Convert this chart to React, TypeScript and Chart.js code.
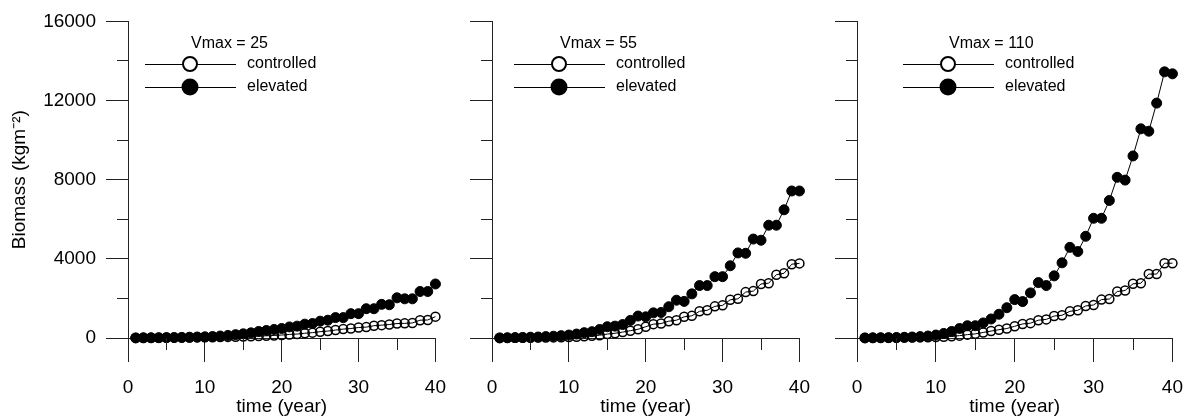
import React, { useEffect, useRef } from 'react';
import { Chart, registerables } from 'chart.js';

Chart.register(...registerables);

// ---- data ----
const years = [1, 2, 3, 4, 5, 6, 7, 8, 9, 10, 11, 12, 13, 14, 15, 16, 17, 18, 19, 20,
  21, 22, 23, 24, 25, 26, 27, 28, 29, 30, 31, 32, 33, 34, 35, 36, 37, 38, 39, 40];

const controlled25 = [5, 8, 10, 12, 15, 18, 20, 25, 30, 35, 40, 50, 55, 65, 75, 90, 100, 110, 130, 150,
  180, 200, 240, 270, 320, 350, 400, 450, 480, 530, 550, 620, 650, 680, 730, 740, 760, 900, 910, 1080];
const elevated25 = [5, 8, 10, 15, 20, 25, 30, 40, 50, 60, 75, 100, 130, 170, 210, 260, 330, 380, 430, 480,
  560, 600, 700, 730, 850, 900, 1030, 1030, 1230, 1230, 1480, 1480, 1700, 1680, 2030, 1980, 1980, 2350, 2350, 2730];

const controlled55 = [5, 7, 10, 12, 15, 20, 25, 30, 40, 50, 65, 85, 110, 140, 200, 240, 300, 370, 440, 570,
  700, 730, 850, 900, 1070, 1120, 1350, 1400, 1600, 1650, 1930, 1980, 2320, 2370, 2730, 2770, 3200, 3270, 3730, 3770];
const elevated55 = [5, 10, 20, 30, 40, 50, 70, 90, 120, 150, 200, 270, 320, 430, 570, 600, 680, 890, 1110, 1070,
  1270, 1290, 1580, 1910, 1850, 2230, 2650, 2650, 3100, 3100, 3650, 4300, 4280, 5000, 4940, 5700, 5700, 6480, 7430, 7430];

const controlled110 = [5, 7, 10, 12, 15, 20, 25, 30, 40, 50, 65, 85, 120, 170, 210, 280, 350, 420, 480, 590,
  710, 750, 900, 940, 1110, 1150, 1350, 1400, 1620, 1670, 1940, 1970, 2350, 2400, 2740, 2770, 3230, 3230, 3780, 3780];
const elevated110 = [5, 8, 12, 18, 25, 35, 50, 70, 100, 150, 230, 330, 480, 620, 620, 760, 960, 1200, 1530, 1940,
  1840, 2280, 2800, 2650, 3140, 3800, 4580, 4370, 5140, 6050, 6050, 6950, 8120, 7980, 9200, 10570, 10450, 11870, 13450, 13350];

const vmaxTitles = ['Vmax = 25', 'Vmax = 55', 'Vmax = 110'];
const seriesNames = ['controlled', 'elevated'];
const yAxisTitle = 'Biomass (kgm\u207B\u00B2)';
const xAxisTitle = 'time (year)';
const xMajorTicks = [0, 10, 20, 30, 40];
const xMinorTicks = [5, 15, 25, 35];
const yMajorTicks = [0, 4000, 8000, 12000, 16000];
const yMinorTicks = [2000, 6000, 10000, 14000];

const panelSeries = [
  { controlled: controlled25, elevated: elevated25 },
  { controlled: controlled55, elevated: elevated55 },
  { controlled: controlled110, elevated: elevated110 },
];

// ---- layout / style ----
const FONT = '"Liberation Sans", Arial, Helvetica, sans-serif';
const AXIS = '#222';
const H = 416;
const LAYOUT = [
  { left: 0, width: 460, yWidth: 128, padRight: 13, labels: true, cx: 190 },
  { left: 460, width: 364, yWidth: 32, padRight: 12, labels: false, cx: 99 },
  { left: 824, width: 373, yWidth: 33, padRight: 22, labels: false, cx: 124 },
];

function align(p: number) {
  return Math.round(p - 0.5) + 0.5;
}

const minorTicksPlugin = {
  id: 'minorTicks',
  afterDraw(chart: any, _a: any, opts: any) {
    const { ctx, chartArea, scales } = chart;
    ctx.save();
    ctx.strokeStyle = AXIS;
    ctx.lineWidth = 1;
    ctx.beginPath();
    for (const v of opts.y) {
      const py = align(scales.y.getPixelForValue(v));
      ctx.moveTo(chartArea.left - opts.yLen, py);
      ctx.lineTo(chartArea.left, py);
    }
    for (const v of opts.x) {
      const px = align(scales.x.getPixelForValue(v));
      ctx.moveTo(px, chartArea.bottom);
      ctx.lineTo(px, chartArea.bottom + opts.xLen);
    }
    ctx.stroke();
    ctx.restore();
  },
};

const panelLegendPlugin = {
  id: 'panelLegend',
  afterDatasetsDraw(chart: any, _a: any, opts: any) {
    const { ctx } = chart;
    const cx = opts.cx;
    ctx.save();
    ctx.font = `16px ${FONT}`;
    ctx.fillStyle = '#000';
    ctx.textBaseline = 'middle';
    ctx.textAlign = 'left';
    ctx.fillText(opts.title, cx + 1, 44);
    const rowsY = [64, 87];
    opts.names.forEach((name: string, i: number) => {
      const y = rowsY[i];
      ctx.strokeStyle = '#000';
      ctx.lineWidth = 1;
      ctx.beginPath();
      ctx.moveTo(cx - 45, align(y));
      ctx.lineTo(cx + 46, align(y));
      ctx.stroke();
      ctx.beginPath();
      if (i === 0) {
        ctx.arc(cx, y, 7, 0, Math.PI * 2);
        ctx.fillStyle = '#fff';
        ctx.fill();
        ctx.lineWidth = 2;
        ctx.stroke();
      } else {
        ctx.arc(cx, y, 8.5, 0, Math.PI * 2);
        ctx.fillStyle = '#000';
        ctx.fill();
      }
      ctx.fillStyle = '#000';
      ctx.fillText(name, cx + 57, y);
    });
    ctx.restore();
  },
};

function Panel({ index }: { index: number }) {
  const ref = useRef<HTMLCanvasElement>(null);
  const lay = LAYOUT[index];
  const series = panelSeries[index];

  useEffect(() => {
    if (!ref.current) return;
    const toPts = (vals: number[]) => years.map((x, i) => ({ x, y: vals[i] }));
    const chart = new Chart(ref.current, {
      type: 'line',
      data: {
        datasets: [
          {
            label: seriesNames[1],
            data: toPts(series.elevated),
            borderColor: '#000',
            borderWidth: 1,
            pointRadius: 5,
            pointBackgroundColor: '#000',
            pointBorderColor: '#000',
            pointBorderWidth: 1,
            tension: 0,
            clip: false as any,
          },
          {
            label: seriesNames[0],
            data: toPts(series.controlled),
            borderColor: '#000',
            borderWidth: 1,
            pointRadius: 4.5,
            pointBackgroundColor: 'rgba(0,0,0,0)',
            pointBorderColor: '#000',
            pointBorderWidth: 1.5,
            tension: 0,
            clip: false as any,
          },
        ],
      },
      options: {
        responsive: false,
        animation: false,
        events: [],
        layout: { padding: { left: 0, right: lay.padRight, top: 18, bottom: 0 } },
        plugins: {
          legend: { display: false },
          tooltip: { enabled: false },
          minorTicks: { x: xMinorTicks, y: yMinorTicks, xLen: 12, yLen: 11 },
          panelLegend: { cx: lay.cx, title: vmaxTitles[index], names: seriesNames },
        } as any,
        scales: {
          x: {
            type: 'linear',
            min: 0,
            max: 40,
            position: 'bottom',
            afterFit: (s: any) => { s.height = 78; },
            border: { display: true, color: AXIS, width: 1 },
            grid: {
              drawOnChartArea: false,
              drawTicks: true,
              tickLength: 24,
              tickColor: (c: any) => (xMajorTicks.includes(c.tick?.value) ? AXIS : 'rgba(0,0,0,0)'),
            },
            ticks: {
              stepSize: 5,
              autoSkip: false,
              maxRotation: 0,
              padding: 14,
              color: '#000',
              font: { family: FONT, size: 19 },
              callback: (v: any) => (xMajorTicks.includes(Number(v)) ? String(v) : ''),
            },
            title: {
              display: true,
              text: xAxisTitle,
              color: '#000',
              font: { family: FONT, size: 19, lineHeight: 1 },
              padding: { top: 0, bottom: 0 },
            },
          },
          y: {
            type: 'linear',
            min: 0,
            max: 16000,
            position: 'left',
            afterFit: (s: any) => { s.width = lay.yWidth; },
            border: { display: true, color: AXIS, width: 1 },
            grid: {
              drawOnChartArea: false,
              drawTicks: true,
              tickLength: 22,
              tickColor: (c: any) => (yMajorTicks.includes(c.tick?.value) ? AXIS : 'rgba(0,0,0,0)'),
            },
            ticks: {
              stepSize: 2000,
              autoSkip: false,
              padding: 10,
              color: '#000',
              font: { family: FONT, size: 19 },
              callback: (v: any) => (lay.labels && yMajorTicks.includes(Number(v)) ? String(v) : ''),
            },
            title: {
              display: lay.labels,
              text: yAxisTitle,
              color: '#000',
              font: { family: FONT, size: 19, lineHeight: 1 },
              padding: { top: 10, bottom: 0 },
            },
          },
        },
      },
      plugins: [minorTicksPlugin, panelLegendPlugin],
    });
    return () => chart.destroy();
  }, [index]);

  return (
    <canvas
      ref={ref}
      width={lay.width}
      height={H}
      style={{ position: 'absolute', left: lay.left, top: 0, width: lay.width, height: H, display: 'block' }}
    />
  );
}

export default function App() {
  return (
    <div style={{ position: 'absolute', left: 0, top: 0, width: 1197, height: H, background: '#fff', overflow: 'hidden' }}>
      <Panel index={0} />
      <Panel index={1} />
      <Panel index={2} />
    </div>
  );
}
